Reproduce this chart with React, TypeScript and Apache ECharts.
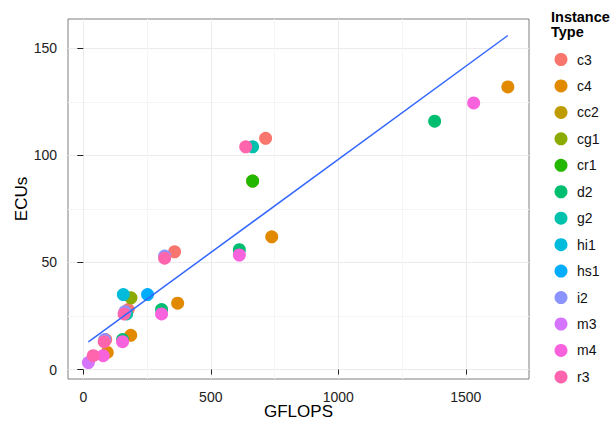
import React, { useEffect, useRef } from 'react';
import * as echarts from 'echarts';

const instanceTypes = ['c3', 'c4', 'cc2', 'cg1', 'cr1', 'd2', 'g2', 'hi1', 'hs1', 'i2', 'm3', 'm4', 'r3'];
const typeColors = ['#F8766D', '#E18A00', '#BE9C00', '#8CAB00', '#24B700', '#00BE70', '#00C1AB', '#00BBDA', '#00ACFC', '#8B93FF', '#D575FE', '#F962DD', '#FF65AC'];

// GFLOPS / ECUs per instance type
const c3Gflops = [88, 176, 358, 715];
const c3Ecus = [14, 28, 55, 108];
const c4Gflops = [94, 186, 370, 739, 1665];
const c4Ecus = [8, 16, 31, 62, 132];
const cc2Gflops = [664];
const cc2Ecus = [88];
const cg1Gflops = [187];
const cg1Ecus = [33.5];
const cr1Gflops = [664];
const cr1Ecus = [88];
const d2Gflops = [154, 307, 612, 1378];
const d2Ecus = [14, 28, 56, 116];
const g2Gflops = [170, 664];
const g2Ecus = [26, 104];
const hi1Gflops = [157];
const hi1Ecus = [35];
const hs1Gflops = [252];
const hs1Ecus = [35];
const i2Gflops = [84, 163, 319];
const i2Ecus = [14, 27, 53];
const m3Gflops = [20];
const m3Ecus = [3.25];
const m4Gflops = [78, 154, 307, 612, 1531];
const m4Ecus = [6.5, 13, 26, 53.5, 124.5];
const r3Gflops = [39, 82, 160, 319, 637];
const r3Ecus = [6.5, 13, 26, 52, 104];

const gflopsByType = [c3Gflops, c4Gflops, cc2Gflops, cg1Gflops, cr1Gflops, d2Gflops, g2Gflops, hi1Gflops, hs1Gflops, i2Gflops, m3Gflops, m4Gflops, r3Gflops];
const ecusByType = [c3Ecus, c4Ecus, cc2Ecus, cg1Ecus, cr1Ecus, d2Ecus, g2Ecus, hi1Ecus, hs1Ecus, i2Ecus, m3Ecus, m4Ecus, r3Ecus];

// linear fit line (endpoints)
const trendGflops = [20, 1665];
const trendEcus = [12.9, 156.0];

// axes
const xMajorTicks = [0, 500, 1000, 1500];
const xMinorTicks = [250, 750, 1250];
const yMajorTicks = [0, 50, 100, 150];
const yMinorTicks = [25, 75, 125];
const xRange = [-60, 1748];
const yRange = [-4.4, 163.7];

const FONT = '"Liberation Sans", Arial, Helvetica, sans-serif';

export default function App() {
  const ref = useRef<HTMLDivElement>(null);
  useEffect(() => {
    const chart = echarts.init(ref.current!, null, { renderer: 'svg' });
    const grid = {
      left: 68, right: 86, top: 19, bottom: 43,
      containLabel: false,
      outerBoundsMode: 'none',
      show: true, borderColor: '#7f7f7f', borderWidth: 1, backgroundColor: '#ffffff',
    };
    const scatterSeries = instanceTypes.map((t, i) => ({
      name: t,
      type: 'scatter',
      xAxisIndex: 0,
      yAxisIndex: 0,
      symbol: 'circle',
      symbolSize: 13,
      itemStyle: { color: typeColors[i], opacity: 1 },
      data: gflopsByType[i].map((g, j) => [g, ecusByType[i][j]]),
      z: 3,
    }));
    const plain = (v: number) => String(v);
    const option: any = {
      animation: false,
      backgroundColor: '#ffffff',
      textStyle: { fontFamily: FONT },
      grid,
      xAxis: [
        {
          type: 'value',
          min: xRange[0],
          max: xRange[1],
          position: 'bottom',
          name: 'GFLOPS',
          nameLocation: 'middle',
          nameGap: 24,
          nameMoveOverlap: false,
          nameTextStyle: { fontSize: 17, color: '#000', fontFamily: FONT },
          axisLine: { show: false },
          axisTick: { show: true, length: 5, lineStyle: { color: '#222', width: 1 }, customValues: xMajorTicks },
          axisLabel: { show: true, margin: 10.5, fontSize: 14, color: '#222', fontFamily: FONT, customValues: xMajorTicks, formatter: plain },
          splitLine: { show: true, lineStyle: { color: '#ebebeb', width: 1 } },
        },
        {
          type: 'value',
          min: xRange[0],
          max: xRange[1],
          position: 'top',
          axisLine: { show: false },
          axisTick: { show: false, customValues: xMinorTicks },
          axisLabel: { show: false, customValues: xMinorTicks },
          splitLine: { show: true, lineStyle: { color: '#f5f5f5', width: 1 } },
        },
      ],
      yAxis: [
        {
          type: 'value',
          min: yRange[0],
          max: yRange[1],
          position: 'left',
          name: 'ECUs',
          nameLocation: 'middle',
          nameGap: 38,
          nameRotate: 90,
          nameMoveOverlap: false,
          nameTextStyle: { fontSize: 17, color: '#000', fontFamily: FONT },
          axisLine: { show: false },
          axisTick: { show: true, length: 6, lineStyle: { color: '#222', width: 1 }, customValues: yMajorTicks },
          axisLabel: { show: true, margin: 11, fontSize: 14, color: '#222', fontFamily: FONT, customValues: yMajorTicks, formatter: plain },
          splitLine: { show: true, lineStyle: { color: '#ebebeb', width: 1 } },
        },
        {
          type: 'value',
          min: yRange[0],
          max: yRange[1],
          position: 'right',
          axisLine: { show: false },
          axisTick: { show: false, customValues: yMinorTicks },
          axisLabel: { show: false, customValues: yMinorTicks },
          splitLine: { show: true, lineStyle: { color: '#f5f5f5', width: 1 } },
        },
      ],
      legend: {
        data: instanceTypes,
        orient: 'vertical',
        left: 554.5,
        top: 52.5,
        icon: 'circle',
        itemWidth: 22,
        itemHeight: 13,
        itemGap: 12.45,
        textStyle: { fontSize: 14, color: '#111', fontFamily: FONT, padding: [0, 0, 0, 0], lineHeight: 14 },
        selectedMode: false,
        padding: 0,
      },
      graphic: [
        {
          type: 'text',
          left: 551,
          top: 9,
          style: { text: 'Instance', font: `bold 14.5px ${FONT}`, fill: '#000' },
        },
        {
          type: 'text',
          left: 551,
          top: 24.5,
          style: { text: 'Type', font: `bold 14.5px ${FONT}`, fill: '#000' },
        },
      ],
      series: [
        ...scatterSeries,
        {
          name: 'fit',
          type: 'line',
          xAxisIndex: 0,
          yAxisIndex: 0,
          data: trendGflops.map((g, j) => [g, trendEcus[j]]),
          symbol: 'none',
          silent: true,
          lineStyle: { color: '#3366FF', width: 1.5 },
          itemStyle: { color: '#3366FF' },
          z: 4,
        },
      ],
    };
    chart.setOption(option);
    return () => chart.dispose();
  }, []);
  return <div ref={ref} style={{ position: 'fixed', left: 0, top: 0, width: 615, height: 422 }} />;
}
